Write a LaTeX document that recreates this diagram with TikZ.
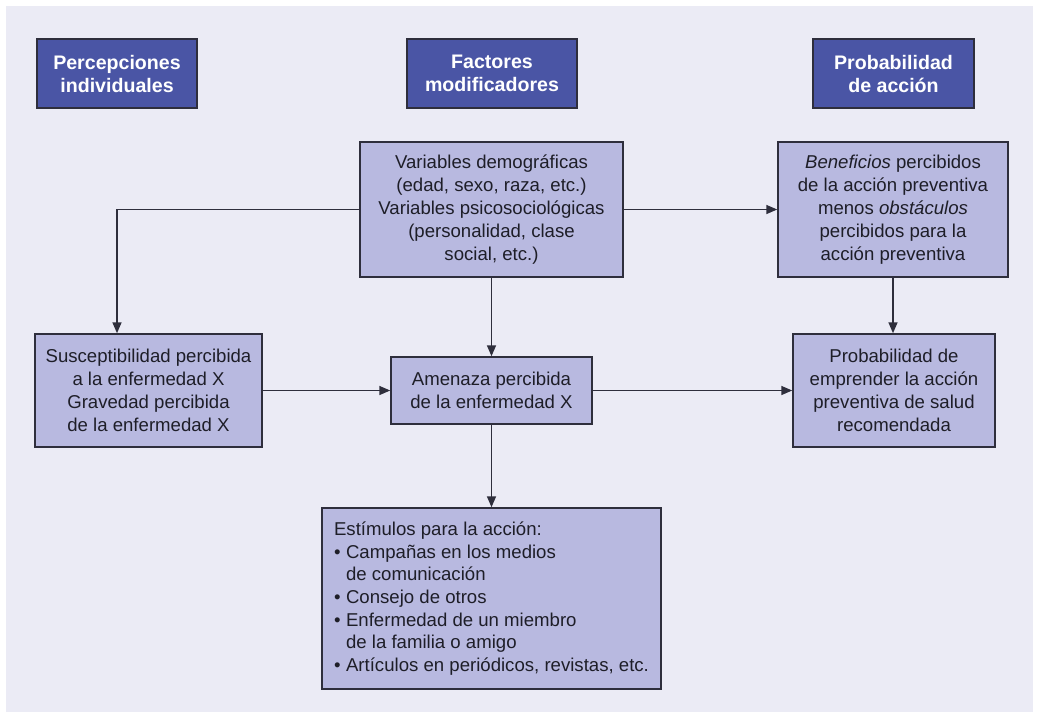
\documentclass[tikz,border=0pt]{standalone}
\usepackage{fontspec}
\setmainfont{Liberation Sans}
\usetikzlibrary{arrows.meta}
\definecolor{panel}{HTML}{EBEBF5}
\definecolor{headfill}{HTML}{4A55A5}
\definecolor{boxfill}{HTML}{B8B9E0}
\definecolor{edge}{HTML}{2E2E3C}
\definecolor{ink}{HTML}{1E1E28}
\begin{document}
\begin{tikzpicture}[x=1pt,y=-1pt,
  headbox/.style={draw=edge, line width=1.5pt, fill=headfill, text=white,
    font=\fontsize{19.6}{23}\selectfont\bfseries, align=center,
    inner sep=0pt, minimum height=69pt},
  infobox/.style={draw=edge, line width=1.5pt, fill=boxfill, text=ink,
    font=\fontsize{18.6}{23}\selectfont, align=center, inner sep=0pt},
  arr/.style={draw=edge, line width=1.6pt, -{Triangle[length=11pt,width=9pt]}}]
  % page and panel
  \useasboundingbox (0,0) rectangle (1037,716);
  \fill[white] (0,0) rectangle (1037,716);
  \fill[panel] (6,6) rectangle (1033,712);

  % column headers
  \node[headbox, minimum width=160pt] (h1) at (117,73.5) {Percepciones\\individuales};
  \node[headbox, minimum width=170pt] (h2) at (492,73.5) {Factores\\modificadores};
  \node[headbox, minimum width=161pt] (h3) at (893.5,73.5) {Probabilidad\\de acción};

  % boxes
  \node[infobox, minimum width=263pt, minimum height=135pt] (var) at (491.5,209.5)
    {Variables demográficas\\(edad, sexo, raza, etc.)\\Variables psicosociológicas\\(personalidad, clase\\social, etc.)};
  \node[infobox, minimum width=230pt, minimum height=135pt] (ben) at (893,209.5)
    {\textit{Beneficios} percibidos\\de la acción preventiva\\menos \textit{obstáculos}\\percibidos para la\\acción preventiva};
  \node[infobox, minimum width=227pt, minimum height=113pt] (sus) at (148.5,390.5)
    {Susceptibilidad percibida\\a la enfermedad X\\Gravedad percibida\\de la enfermedad X};
  \node[infobox, minimum width=201pt, minimum height=67pt] (ame) at (491.5,390.5)
    {Amenaza percibida\\de la enfermedad X};
  \node[infobox, minimum width=202pt, minimum height=113pt] (prob) at (894,390.5)
    {Probabilidad de\\emprender la acción\\preventiva de salud\\recomendada};
  \node[infobox, minimum width=339pt, minimum height=181pt, align=left,
        font=\fontsize{18.6}{22.6}\selectfont] (est) at (491.5,598.5)
    {Estímulos para la acción:\\
     \makebox[12pt][l]{•}Campañas en los medios\\
     \hspace*{12pt}de comunicación\\
     \makebox[12pt][l]{•}Consejo de otros\\
     \makebox[12pt][l]{•}Enfermedad de un miembro\\
     \hspace*{12pt}de la familia o amigo\\
     \makebox[12pt][l]{•}Artículos en periódicos, revistas, etc.};

  % connectors
  \draw[arr] (var.west) -| (sus.north -| h1.south);
  \draw[arr] (var.east) -- (ben.west);
  \draw[arr] (var.south) -- (ame.north);
  \draw[arr] (sus.east) -- (ame.west);
  \draw[arr] (ame.east) -- (prob.west);
  \draw[arr] (ben.south) -- (ben.south |- prob.north);
  \draw[arr] (ame.south) -- (est.north);
\end{tikzpicture}
\end{document}
